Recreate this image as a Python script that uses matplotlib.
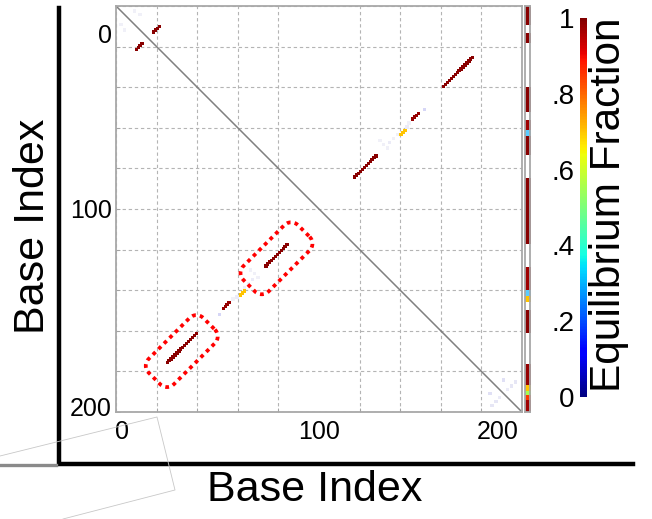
import numpy as np
import matplotlib.pyplot as plt
from matplotlib.lines import Line2D
from matplotlib.cm import ScalarMappable
from matplotlib.colors import Normalize

plt.rcParams['font.family'] = ['Liberation Sans', 'DejaVu Sans']

# ------------------------------------------------------------
# data
# ------------------------------------------------------------
n_bases = 210

# helices: first base i, its partner j, number of pairs, equilibrium fraction
helix_i = [10, 26, 55, 64, 77]
helix_j = [22, 184, 156, 149, 134]
helix_len = [4, 16, 4, 3, 12]
helix_frac = [0.99, 0.99, 0.98, 0.70, 0.99]

# weak pairs (the faint dots)
weak_i = [2, 4, 53, 60, 62, 66, 68, 70, 71, 73, 69, 193, 196, 198, 194]
weak_j = [9, 12, 159, 151, 150, 145, 143, 141, 138, 140, 136, 200, 204, 202, 206]
weak_frac = [0.01, 0.01, 0.06, 0.01, 0.02, 0.01, 0.01, 0.02, 0.01, 0.01, 0.01,
             0.04, 0.03, 0.02, 0.03]

# unpaired column: segment start, end (inclusive), fraction
unp_start = [0, 14, 42, 59, 64, 67, 89, 135, 147, 150, 157, 185, 196, 199, 201, 204]
unp_end = [9, 18, 54, 63, 66, 76, 122, 146, 149, 152, 168, 195, 198, 200, 203, 209]
unp_frac = [0.99, 0.99, 0.99, 0.97, 0.30, 0.99, 0.99, 0.97, 0.30, 0.70, 0.99,
            0.98, 0.70, 0.55, 0.85, 0.97]

# helices marked by red dotted boxes (index into the helix lists)
boxed_helices = [1, 4]

tick_labels = ['0', '100', '200']
xtick_pos = [3, 105, 197.5]
ytick_pos = [14, 104.5, 207]
cbar_ticks = [0, 0.2, 0.4, 0.6, 0.8, 1.0]
cbar_labels = ['0', '.2', '.4', '.6', '.8', '1']

W, H = 652, 519
cmap = plt.get_cmap('jet')


def fig_rect(x0, y0, x1, y1):
    # pixel box -> figure fraction
    return [x0 / W, 1 - y1 / H, (x1 - x0) / W, (y1 - y0) / H]


def pale(frac):
    # low fractions are drawn washed out towards white
    c = np.array(cmap(frac))
    w = min(1.0, 0.04 + 2.0 * frac)
    c[:3] = 1 - w * (1 - c[:3])
    return c


def rounded_box(cx, cy, length, width, r, n=10):
    hl, hw = length / 2 - r, width / 2 - r
    pts = []
    for sx, sy, a0 in [(hl, hw, 0), (-hl, hw, 90), (-hl, -hw, 180), (hl, -hw, 270)]:
        t = np.radians(np.linspace(a0, a0 + 90, n))
        pts += list(zip(sx + r * np.cos(t), sy + r * np.sin(t)))
    pts.append(pts[0])
    pts = np.array(pts)
    u = np.array([1, -1]) / np.sqrt(2)
    v = np.array([1, 1]) / np.sqrt(2)
    x = cx + pts[:, 0] * u[0] + pts[:, 1] * v[0]
    y = cy + pts[:, 0] * u[1] + pts[:, 1] * v[1]
    return x, y


fig = plt.figure(figsize=(W / 100, H / 100), dpi=100)

# ------------------------------------------------------------
# main dot plot
# ------------------------------------------------------------
ax = fig.add_axes(fig_rect(116, 6, 522, 412))
ax.set_xlim(0, n_bases)
ax.set_ylim(n_bases, 0)

grid = np.linspace(0, n_bases, 11)
ax.set_xticks(grid, minor=True)
ax.set_yticks(grid, minor=True)
ax.grid(which='minor', color='#b4b4b4', linestyle=(0, (3, 2.5)), linewidth=0.8)
ax.tick_params(which='minor', length=3, direction='in', color='#a0a0a0')
ax.set_xticks(xtick_pos, tick_labels)
ax.set_yticks(ytick_pos, tick_labels)
ax.tick_params(which='major', length=0, labelsize=18)
ax.tick_params(axis='x', which='major', pad=6)
ax.tick_params(axis='y', which='major', pad=3)
for s in ax.spines.values():
    s.set_color('#a8a8a8')
    s.set_linewidth(1.3)

ax.plot([0, n_bases], [0, n_bases], color='#808080', linewidth=1.1, zorder=2)

xs, ys, cs = [], [], []
for i0, j0, n, f in zip(helix_i, helix_j, helix_len, helix_frac):
    for k in range(n):
        i, j = i0 + k, j0 - k
        xs += [j + 0.5, i + 0.5]
        ys += [i + 0.5, j + 0.5]
        cs += [pale(f), pale(f)]
for i, j, f in zip(weak_i, weak_j, weak_frac):
    xs += [j + 0.5, i + 0.5]
    ys += [i + 0.5, j + 0.5]
    cs += [pale(f), pale(f)]
ax.scatter(xs, ys, s=6, marker='s', c=np.array(cs), linewidths=0, zorder=3)

# red dotted boxes round two helices
box_len, box_wid, box_r = 40, 18.5, 5
for h in boxed_helices:
    n = helix_len[h]
    cx = helix_i[h] + (n - 1) / 2 + 0.5
    cy = helix_j[h] - (n - 1) / 2 + 0.5 + 1.5
    bx, by = rounded_box(cx, cy, box_len, box_wid, box_r)
    ax.plot(bx, by, color='#ff0000', linewidth=2.7, dashes=(1, 1.1),
            dash_capstyle='butt', zorder=4, clip_on=False)

# ------------------------------------------------------------
# unpaired column
# ------------------------------------------------------------
cax_u = fig.add_axes(fig_rect(524.5, 6, 530.5, 412))
col = np.ones((n_bases, 1, 4))
for s0, e0, f in zip(unp_start, unp_end, unp_frac):
    col[s0:e0 + 1, 0, :] = pale(f)
cax_u.imshow(col, aspect='auto', interpolation='nearest', extent=(0, 1, n_bases, 0))
cax_u.set_xticks([])
cax_u.set_yticks([])
for s in cax_u.spines.values():
    s.set_color('#a8a8a8')
    s.set_linewidth(1.3)

# ------------------------------------------------------------
# colour bar
# ------------------------------------------------------------
cb_ax = fig.add_axes(fig_rect(580, 18, 587, 397))
cb = fig.colorbar(ScalarMappable(norm=Normalize(0, 1), cmap=cmap), cax=cb_ax)
cb.outline.set_linewidth(0)
cb_ax.yaxis.set_ticks_position('left')
cb.set_ticks(cbar_ticks, labels=cbar_labels)
cb_ax.tick_params(length=0, labelsize=20, pad=4)
fig.text(609 / W, 1 - 205 / H, 'Equilibrium Fraction', rotation=90,
         ha='center', va='center', fontsize=30.5)

# ------------------------------------------------------------
# outer frame and axis titles
# ------------------------------------------------------------
frame = Line2D([59 / W, 59 / W, 633 / W], [1 - 8 / H, 1 - 464 / H, 1 - 464 / H],
               transform=fig.transFigure, color='black', linewidth=3.2,
               solid_joinstyle='miter')
fig.add_artist(frame)
fig.add_artist(Line2D([0, 56 / W], [1 - 464.5 / H, 1 - 464.5 / H],
                      transform=fig.transFigure, color='#8a8a8a', linewidth=2.4))
fig.add_artist(Line2D([0, 157 / W, 175 / W, 63 / W],
                      [1 - 456 / H, 1 - 417 / H, 1 - 490 / H, 1 - 519 / H],
                      transform=fig.transFigure, color='#c8c8c8', linewidth=0.6))

fig.text(315 / W, 1 - 490 / H, 'Base Index', ha='center', va='center', fontsize=31)
fig.text(33 / W, 1 - 226 / H, 'Base Index', rotation=90, ha='center', va='center',
         fontsize=31)

fig.savefig('out.png', dpi=100)
